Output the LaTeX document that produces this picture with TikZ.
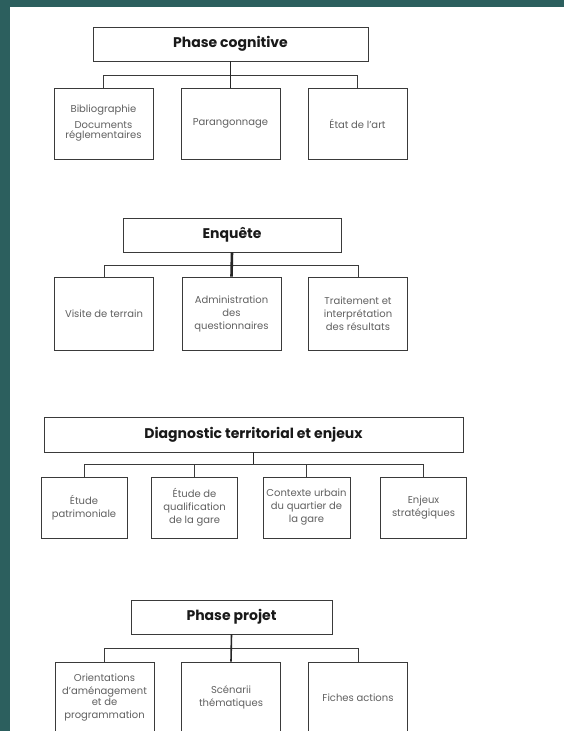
\documentclass[tikz,border=0pt]{standalone}
\usepackage{fontspec}
\setmainfont{Poppins}
\definecolor{fond}{HTML}{2C5F5E}
\definecolor{trait}{HTML}{3A3A3A}

\begin{document}
\begin{tikzpicture}[x=1pt, y=-1pt,
    titre/.style={draw=trait, line width=0.8pt, inner sep=0pt, minimum height=34pt, text=black!90, font=\bfseries\fontsize{14}{16}\selectfont},
    sous/.style={draw=trait, line width=0.7pt, inner sep=1pt, align=center, minimum width=99pt, minimum height=71pt, text=black!62, font=\fontsize{10}{13}\selectfont},
    lien/.style={draw=trait, line width=0.7pt},
    tige/.style={draw=black!85, line width=1.6pt}]
    %tikz fond
    \useasboundingbox (0,0) rectangle (564,731);
    \clip (0,0) rectangle (564,731);
    \fill[fond] (0,0) rectangle (564,731);
    \fill[white] (10,7) rectangle (564,731);

    %tikz phase cognitive
    \node[titre, minimum width=275pt] at (230.5,44) (PC){Phase cognitive};
    \node[sous] at (103.5,123.5) (PC1){Bibliographie\\[3pt]Documents\\[-3pt]réglementaires};
    \node[sous] at (230.5,123.5) (PC2){Parangonnage};
    \node[sous] at (357.5,123.5) (PC3){État de l'art};
    \draw[lien] (PC.south) -- ++(0,14) -| (PC1.north);
    \draw[lien] (PC.south) -- ++(0,14) -| (PC3.north);
    \draw[tige] (PC.south) -- (PC2.north);

    %tikz enquete
    \node[titre, minimum width=218pt] at (232,235) (EN){Enquête};
    \node[sous, minimum height=73pt] at (104,313.5) (EN1){Visite de terrain};
    \node[sous, minimum height=73pt] at (231.5,313.5) (EN2){Administration\\des\\questionnaires};
    \node[sous, minimum height=73pt] at (358,313.5) (EN3){Traitement et\\interprétation\\des résultats};
    \draw[lien] (EN.south) -- ++(0,13) -| (EN1.north);
    \draw[lien] (EN.south) -- ++(0,13) -| (EN3.north);
    \draw[tige, line width=2.6pt] (EN.south) -- (EN2.north);

    %tikz diagnostic
    \node[titre, minimum width=419pt, minimum height=35pt] at (253.5,434.5) (DT){Diagnostic territorial et enjeux};
    \node[sous, minimum width=86pt, minimum height=61pt] at (84,507.5) (DT1){Étude\\patrimoniale};
    \node[sous, minimum width=86pt, minimum height=61pt] at (194.5,507.5) (DT2){Étude de\\qualification\\de la gare};
    \node[sous, minimum width=87pt, minimum height=61pt] at (306.5,507.5) (DT3){Contexte urbain\\du quartier de\\la gare};
    \node[sous, minimum width=86pt, minimum height=61pt] at (423.5,507.5) (DT4){Enjeux\\stratégiques};
    \draw[lien] (DT.south) -- ++(0,12) -| (DT1.north);
    \draw[lien] (DT.south) -- ++(0,12) -| (DT2.north);
    \draw[lien] (DT.south) -- ++(0,12) -| (DT3.north);
    \draw[lien] (DT.south) -- ++(0,12) -| (DT4.north);
    \draw[tige] (DT.south) -- ++(0,12);

    %tikz phase projet
    \node[titre, minimum width=201pt] at (231.5,617) (PP){Phase projet};
    \node[sous] at (104.5,697.5) (PP1){Orientations\\d'aménagement\\[-2pt]et de\\programmation};
    \node[sous] at (231,697.5) (PP2){Scénarii\\thématiques};
    \node[sous] at (358,697.5) (PP3){Fiches actions};
    \draw[lien] (PP.south) -- ++(0,14) -| (PP1.north);
    \draw[lien] (PP.south) -- ++(0,14) -| (PP3.north);
    \draw[tige] (PP.south) -- (PP2.north);
\end{tikzpicture}
\end{document}
